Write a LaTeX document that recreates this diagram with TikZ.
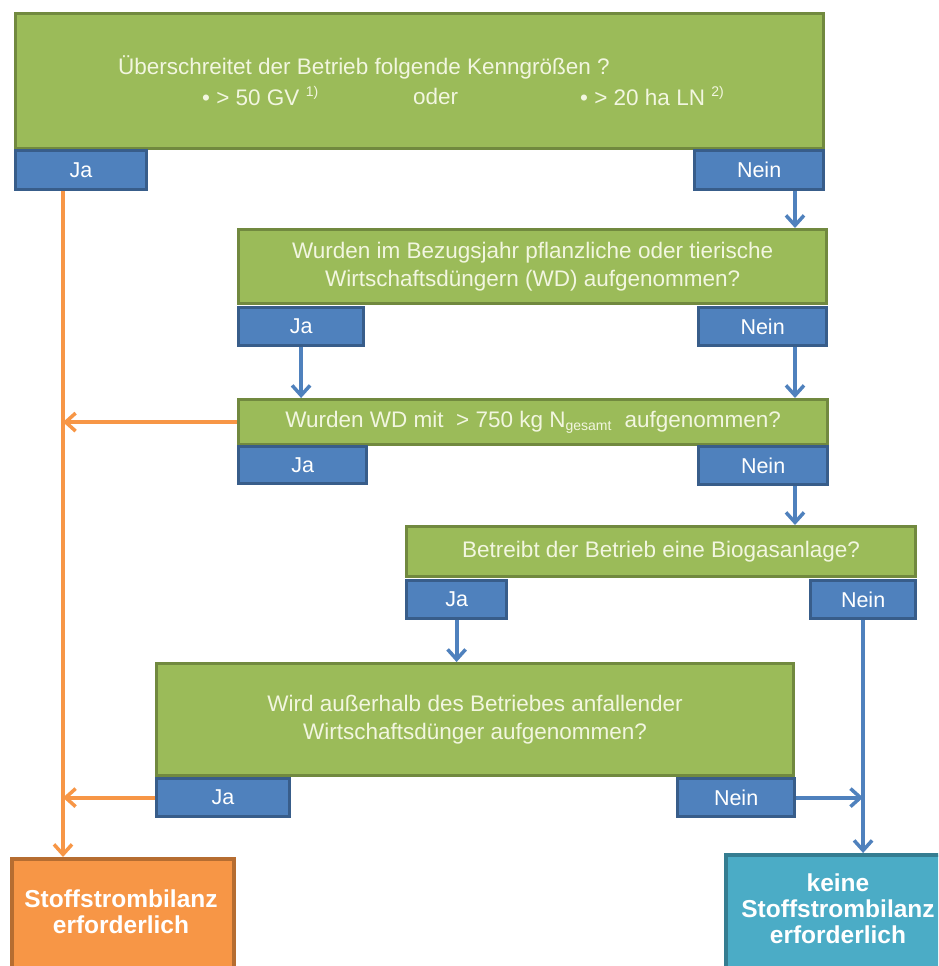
\documentclass[tikz,border=0pt]{standalone}
\usepackage{fontspec}
\setmainfont{Liberation Sans}
\usetikzlibrary{arrows.meta}
\definecolor{greenF}{HTML}{9BBB59}
\definecolor{greenB}{HTML}{71893F}
\definecolor{greenT}{HTML}{F2F6E0}
\definecolor{blueF}{HTML}{4F81BD}
\definecolor{blueB}{HTML}{385D8A}
\definecolor{orangeF}{HTML}{F79646}
\definecolor{orangeB}{HTML}{B66D31}
\definecolor{tealF}{HTML}{4BACC6}
\definecolor{tealB}{HTML}{357D91}
\newcommand{\supr}[1]{\raisebox{0.42em}{\fontsize{14}{14}\selectfont #1}}
\tikzset{
  qbox/.style={rectangle, draw=greenB, fill=greenF, line width=3.2pt, inner sep=0pt, anchor=north west,
    text=greenT, font=\fontsize{22.5}{28}\selectfont, align=center},
  gtext/.style={inner sep=0pt, text=greenT, font=\fontsize{22.5}{28}\selectfont},
  lbl/.style={rectangle, draw=blueB, fill=blueF, line width=3.2pt, inner sep=0pt, anchor=north west,
    text=white, font=\fontsize{21.5}{24}\selectfont},
  resbox/.style={rectangle, line width=3.6pt, inner sep=0pt, anchor=north west},
  restext/.style={inner sep=0pt, text=white, align=center, font=\fontsize{24.5}{26}\selectfont\bfseries},
  oarr/.style={draw=orangeF, line width=3.8pt, -{Straight Barb[length=10pt,width=18pt,line width=3.5pt]}},
  barr/.style={draw=blueF, line width=3.8pt, -{Straight Barb[length=10pt,width=18pt,line width=3.5pt]}},
}
\begin{document}
\begin{tikzpicture}[x=1pt,y=-1pt]
\clip (0,0) rectangle (938,966);
\fill[white] (0,0) rectangle (938,966);

% question 1
\node[qbox, minimum width=808pt, minimum height=135pt] (q1) at (14,12) {};
\node[gtext, anchor=west] (t1a) at (118,67) {Überschreitet der Betrieb folgende Kenngrößen ?};
\node[gtext, anchor=west] (t1b) at (202,96) {• > 50 GV \supr{1)}};
\node[gtext, anchor=west] (t1c) at (413,96) {oder};
\node[gtext, anchor=west] (t1d) at (580,96) {• > 20 ha LN \supr{2)}};
\node[lbl, minimum width=131pt, minimum height=39pt] (ja1) at (14,149) {Ja};
\node[lbl, minimum width=129pt, minimum height=39pt] (nein1) at (693,149) {Nein};

% question 2
\node[qbox, minimum width=588pt, minimum height=74pt] (q2) at (237,228)
  {Wurden im Bezugsjahr pflanzliche oder tierische\\Wirtschaftsdüngern (WD) aufgenommen?};
\node[lbl, minimum width=125pt, minimum height=38pt] (ja2) at (237,306) {Ja};
\node[lbl, minimum width=128pt, minimum height=38pt] (nein2) at (697,306) {Nein};

% question 3
\node[qbox, minimum width=589pt, minimum height=45pt] (q3) at (237,398)
  {Wurden WD mit \ > 750 kg N\textsubscript{\fontsize{14}{14}\selectfont gesamt} \ aufgenommen?};
\node[lbl, minimum width=128pt, minimum height=37pt] (ja3) at (237,445) {Ja};
\node[lbl, minimum width=129pt, minimum height=38pt] (nein3) at (697,445) {Nein};

% question 4
\node[qbox, minimum width=509pt, minimum height=50pt] (q4) at (405,525)
  {Betreibt der Betrieb eine Biogasanlage?};
\node[lbl, minimum width=100pt, minimum height=38pt] (ja4) at (405,579) {Ja};
\node[lbl, minimum width=105pt, minimum height=38pt] (nein4) at (809,579) {Nein};

% question 5
\node[qbox, minimum width=637pt, minimum height=112pt] (q5) at (155,662)
  {Wird außerhalb des Betriebes anfallender\\Wirtschaftsdünger aufgenommen?};
\node[lbl, minimum width=133pt, minimum height=38pt] (ja5) at (155,777) {Ja};
\node[lbl, minimum width=117pt, minimum height=38pt] (nein5) at (676,777) {Nein};

% results
\node[resbox, draw=orangeB, fill=orangeF, minimum width=222pt, minimum height=140pt] (res1) at (10,857) {};
\node[restext] (res1t) at (121,912) {Stoffstrombilanz\\erforderlich};
\node[resbox, draw=tealB, fill=tealF, minimum width=230pt, minimum height=140pt] (res2) at (724,853) {};
\node[restext] (res2t) at (838,909) {keine\\Stoffstrombilanz\\erforderlich};

% helper coordinates
\coordinate (trunk) at (63,0);
\coordinate (xn) at (795,0);

% orange connectors
\draw[oarr] (ja1.south -| trunk) -- (res1.north -| trunk);
\draw[oarr] (q3.west) -- (q3.west -| trunk);
\draw[oarr] (ja5.west) -- (ja5.west -| trunk);

% blue connectors
\draw[barr] (nein1.south -| xn) -- (q2.north -| xn);
\draw[barr] (nein2.south -| xn) -- (q3.north -| xn);
\draw[barr] (ja2.south) -- (ja2.south |- q3.north);
\draw[barr] (nein3.south -| xn) -- (q4.north -| xn);
\draw[barr] (ja4.south) -- (ja4.south |- q5.north);
\draw[barr] (nein4.south) -- (nein4.south |- res2.north);
\draw[barr] (nein5.east) -- (nein5.east -| nein4.south);
\end{tikzpicture}
\end{document}
